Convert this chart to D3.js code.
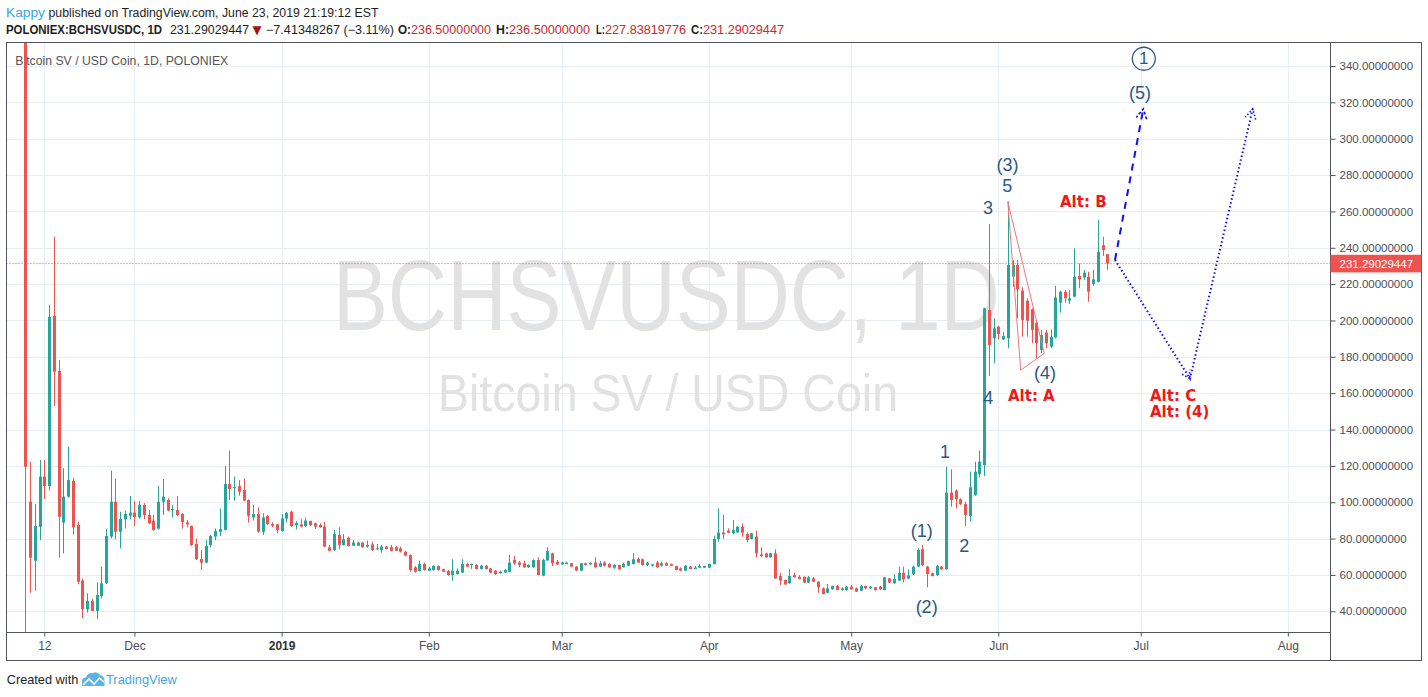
<!DOCTYPE html>
<html><head><meta charset="utf-8">
<script src="https://cdn.jsdelivr.net/npm/d3@7"></script>
<style>body{margin:0;background:#fff;} svg{display:block;font-family:"Liberation Sans",Arial,sans-serif;}</style>
</head><body><svg id="c" width="1428" height="697"></svg>
<script>
// ---------------- DATA ----------------
const startDate = "2018-11-08"; // first daily candle
const open = [
380,100.3,67.8,86.5,114.1,108.9,202.5,172.2,88.8,103.1,111.7,87.5,56.9,41.1,45.7,40.2,48.4,55.4,81.1,100.3,83.8,90.6,92.6,
94.3,91.7,98.5,93.0,89.9,85.5,100.3,101.2,95.7,95.7,93.5,88.9,86.9,77.0,68.8,66.8,76.5,81.1,83.8,84.7,110.0,108.0,108.9,106.7,101.2,91.7,93.5,83.8,92.4,88.0,87.8,
84.2,91.0,94.8,87.3,87.8,86.9,89.7,88.4,87.5,86.6,75.2,73.7,82.0,76.5,80.5,76.1,76.1,77.8,75.6,76.8,74.1,73.7,75.6,75.2,75.2,74.6,72.8,71.0,64.2,62.2,66.0,
62.3,62.7,64.9,63.1,62.2,60.0,60.5,61.3,66.0,65.5,65.5,63.3,65.1,63.6,62.4,60.9,61.3,61.8,68.2,66.9,66.4,64.2,64.2,68.2,59.6,68.0,71.9,67.3,
65.8,66.0,66.4,64.6,62.4,66.4,65.8,66.8,64.6,66.8,66.0,64.0,65.5,64.2,65.1,66.0,68.8,68.6,65.5,65.1,66.8,65.1,66.4,66.0,64.9,63.6,62.4,64.6,63.3,64.0,64.0,
64.0,66.0,79.8,83.3,84.4,82.9,83.4,86.6,82.5,79.8,81.1,71.3,71.9,69.7,71.9,59.4,57.2,55.4,59.9,59.0,59.0,55.8,58.1,56.3,52.6,50.2,52.1,53.9,51.7,51.7,
53.6,52.6,51.3,53.9,52.6,53.2,53.6,51.7,58.1,55.4,56.9,61.2,58.1,60.5,64.6,74.1,64.6,60.9,59.9,64.6,63.1,105.3,106.4,101.6,99.0,92.4,104.0,115.5,120.5,205.8,190.2,
196.6,189.6,190.2,224.1,230.5,216.4,210.9,206.1,198.8,183.8,193.3,185.6,190.7,209.8,215.8,210.9,213.1,224.5,223.7,224.1,220.1,221.3,241.5,236.5
];
const high = [
420,122.3,99.0,123.2,123.2,208.5,246.1,178.3,118.7,130.6,113.5,89.3,58.1,49.9,46.8,55.9,64.6,85.3,117.4,113.0,94.8,95.4,103.4,
100.7,100.7,99.5,95.7,93.0,108.9,112.8,102.2,98.5,103.4,93.8,90.2,87.2,80.1,73.7,79.2,82.0,85.6,96.6,119.9,128.4,114.1,112.2,113.1,101.6,98.5,97.2,93.9,93.0,88.9,88.0,
93.5,94.8,95.4,89.7,90.6,91.5,89.9,88.8,88.4,89.3,76.5,84.7,86.2,82.5,81.1,79.2,78.3,78.0,78.9,78.3,77.0,76.5,75.9,76.5,75.9,75.6,73.3,71.2,64.9,67.9,66.8,
64.5,65.5,65.1,63.5,62.7,68.6,63.6,68.6,66.8,66.2,66.0,65.5,65.6,63.8,62.7,62.4,63.1,71.0,70.4,67.7,67.9,65.8,68.6,69.7,69.0,75.2,72.2,68.2,
67.3,67.3,66.6,64.9,66.6,66.8,67.0,69.7,67.7,67.8,66.4,65.8,65.6,66.8,67.9,71.9,69.5,69.1,67.3,66.0,67.8,67.3,66.9,66.2,65.1,64.2,65.5,64.9,64.9,66.0,65.1,
66.2,81.6,96.6,93.0,85.6,90.2,86.8,88.4,83.3,83.1,84.4,75.2,72.2,72.2,74.1,61.2,57.4,63.1,61.2,59.9,59.2,59.4,59.0,56.5,53.2,55.0,54.1,54.5,53.2,53.9,
54.5,53.2,54.5,54.1,53.9,53.4,53.9,59.0,58.3,60.5,64.6,64.6,63.1,65.0,74.6,76.5,65.0,61.3,65.5,64.9,119.6,118.1,107.1,102.2,100.3,116.8,122.3,128.4,207.0,253.1,201.2,
197.0,193.8,265.4,233.3,233.3,218.2,212.2,206.7,200.3,194.8,194.8,195.1,219.0,216.4,216.8,216.8,239.7,231.4,227.8,226.8,227.8,255.3,246.1,236.5
];
const low = [
15,50.2,51.4,79.2,101.8,106.4,152.9,69.5,71.9,102.5,82.3,55.0,36.2,39.3,40.0,35.6,47.1,55.0,80.1,79.6,74.6,85.6,90.6,
86.9,91.0,90.6,88.0,84.4,85.0,93.0,95.0,91.5,92.5,85.5,86.2,75.9,68.2,62.7,66.5,75.2,79.2,81.4,84.4,101.2,100.9,103.6,100.5,88.8,89.9,83.3,82.0,87.5,86.2,82.9,
83.8,88.9,86.5,85.1,86.2,86.5,87.0,85.3,86.0,75.2,73.0,73.3,74.1,76.2,75.6,75.9,75.9,75.0,75.0,73.3,73.7,72.2,74.1,73.0,73.2,72.4,70.3,61.8,61.2,61.9,62.4,
62.2,62.5,62.4,61.6,59.6,56.9,60.2,60.9,64.3,63.3,63.0,63.0,63.0,61.0,60.0,60.7,61.1,61.5,65.5,64.2,63.9,63.9,63.9,59.8,59.3,67.8,64.9,65.5,
65.5,65.8,64.2,62.2,62.2,65.1,65.5,64.0,64.4,64.6,64.0,63.3,62.9,64.0,64.9,65.8,66.6,65.1,64.9,64.6,64.0,64.6,64.9,64.9,62.5,62.2,62.2,63.1,63.1,63.8,63.8,
63.8,65.8,78.3,79.8,82.9,82.5,83.2,81.1,77.9,79.6,69.7,69.7,69.5,69.5,57.8,54.5,54.5,55.1,58.5,57.6,55.4,55.6,56.1,50.2,49.3,50.0,51.9,51.5,51.3,51.3,
51.9,50.6,51.1,52.1,52.4,51.3,51.7,51.5,55.6,55.2,56.7,55.8,57.6,60.0,64.2,64.9,53.2,59.2,59.4,62.7,62.7,97.6,96.6,98.5,86.9,89.3,103.6,113.7,114.4,169.4,176.4,
189.6,189.2,184.7,218.6,201.2,191.1,191.1,187.4,179.2,181.9,184.7,184.7,190.2,204.3,209.8,209.0,212.7,217.7,222.3,210.3,219.0,221.0,235.5,227.84
];
const close = [
119.5,69.5,86.9,114.1,108.9,202.1,171.8,92.0,103.1,112.2,86.2,56.3,41.1,45.7,40.2,49.0,55.4,81.4,100.3,83.8,90.8,93.5,94.3,
91.8,98.5,93.0,88.4,84.7,100.3,103.1,95.4,96.3,93.0,89.1,87.8,76.5,68.6,66.8,75.9,81.4,84.2,85.3,110.0,107.3,108.3,105.8,100.9,92.6,93.5,83.8,91.7,88.0,87.1,84.7,
91.1,94.0,86.9,88.4,86.6,89.9,87.3,86.6,86.2,75.6,73.3,82.5,76.5,79.6,75.9,77.8,77.8,75.2,76.5,73.7,74.6,75.6,74.3,73.3,73.3,72.8,70.6,62.7,61.8,66.0,62.7,
63.6,64.9,62.7,61.8,60.0,62.4,62.4,66.0,64.6,66.0,63.3,65.1,63.3,61.3,60.5,61.8,62.7,66.8,66.4,65.5,64.2,65.5,68.2,60.0,68.2,73.2,66.4,65.8,
66.9,66.8,64.6,62.4,66.4,65.5,66.6,64.2,66.4,65.1,64.2,65.5,63.1,66.0,67.7,68.6,66.8,65.5,66.8,65.8,64.2,66.4,65.1,65.1,62.7,62.4,65.1,63.3,64.0,64.9,64.9,
66.0,79.8,83.3,82.3,83.3,84.7,86.6,83.3,79.2,82.9,71.9,70.4,69.7,71.9,58.1,56.9,54.8,59.4,58.7,57.8,55.8,58.7,56.3,53.2,49.5,52.6,53.9,51.7,52.6,53.6,
52.1,50.8,53.9,52.6,53.6,51.7,52.1,58.7,55.8,57.8,61.2,57.6,59.8,64.6,73.7,65.5,60.5,59.4,64.9,63.1,105.3,101.2,101.6,99.0,93.0,108.2,116.8,122.3,206.7,186.5,195.7,
192.6,191.4,230.5,230.5,217.1,200.3,199.9,194.8,187.4,192.0,187.4,191.1,212.7,215.8,212.2,212.2,224.1,222.6,226.3,215.8,222.6,237.8,238.7,231.29029447
];
const priceTicks = [40,60,80,100,120,140,160,180,200,220,240,260,280,300,320,340];
const timeTickDates = ["2018-11-12","2018-12-01","2019-01-01","2019-02-01","2019-03-01","2019-04-01","2019-05-01","2019-06-01","2019-07-01","2019-08-01"];
const timeTickLabels = ["12","Dec","2019","Feb","Mar","Apr","May","Jun","Jul","Aug"];
const lastPrice = 231.29029447;
// Elliott wave labels: [day index from startDate (fractional), price, text]
const waveLabels = [
 [188.86,84.2,"(1)"],[189.9,42.1,"(2)"],[193.77,127.8,"1"],[197.84,76.2,"2"],
 [202.83,261.9,"3"],[202.9,157.2,"4"],[206.94,285.5,"(3)"],[206.88,273.8,"5"],
 [214.84,170.9,"(4)"],[234.86,325.1,"(5)"]
];
const circledLabel = [235.66,344.0,"1"];
// red "Alt" labels: [day index of left edge, price, text]
const altLabels = [[218.0,265.2,"Alt: B"],[207.04,158.3,"Alt: A"],[236.96,158.2,"Alt: C"],[236.96,149.6,"Alt: (4)"]];
// red triangle drawing
const triangle = [[207,265.4],[214.69,181.9],[209.72,172.7]];
// blue projections
const dashedPath = [[229.59,233.3],[235.55,316.4]];
const dottedPath = [[229.59,233.3],[245.39,168.0],[258.6,316.4]];

// ---------------- CHART ----------------
const W=1428,H=697;
const PL=6.5, PT=42.5, PR=1330.5, PB=632.5, RR=1421.5, BB=660.5;
const svg=d3.select("#c");
svg.append("rect").attr("width",W).attr("height",H).attr("fill","#fff");
const parse=d3.utcParse("%Y-%m-%d");
const t0=parse(startDate);
const x=d3.scaleUtc().domain([parse("2018-11-12"),parse("2019-06-01")]).range([44.3,998.3]);
const y=d3.scaleLinear().domain([40,340]).range([611.3,66.0]);
const dayX=i=>x(new Date(t0.getTime()+i*864e5));

svg.append("defs").append("clipPath").attr("id","plotclip")
  .append("rect").attr("x",PL).attr("y",PT).attr("width",PR-PL).attr("height",PB-PT);

// grid
const grid=svg.append("g").attr("clip-path","url(#plotclip)");
grid.selectAll(".hg").data(priceTicks).join("line")
  .attr("x1",PL).attr("x2",PR).attr("y1",d=>Math.round(y(d))+0.5).attr("y2",d=>Math.round(y(d))+0.5)
  .attr("stroke","#e9eef3").attr("stroke-width",1);
grid.selectAll(".vg").data(timeTickDates).join("line")
  .attr("x1",d=>Math.round(x(parse(d)))+0.5).attr("x2",d=>Math.round(x(parse(d)))+0.5).attr("y1",PT).attr("y2",PB)
  .attr("stroke","#e9eef3").attr("stroke-width",1);

// watermark
const wm=svg.append("g").attr("fill","#e2e2e2");
wm.append("text").attr("x",333).attr("y",330).attr("font-size",100).attr("textLength",667).attr("lengthAdjust","spacingAndGlyphs").text("BCHSVUSDC, 1D");
wm.append("text").attr("x",438).attr("y",411).attr("font-size",52).attr("textLength",460).attr("lengthAdjust","spacingAndGlyphs").text("Bitcoin SV / USD Coin");

// title
svg.append("text").attr("x",15.3).attr("y",64.7).attr("font-size",12).attr("fill","#555").attr("textLength",213).attr("lengthAdjust","spacingAndGlyphs").text("Bitcoin SV / USD Coin, 1D, POLONIEX");

// current price line
svg.append("line").attr("x1",PL).attr("x2",PR).attr("y1",y(lastPrice)).attr("y2",y(lastPrice))
  .attr("stroke","#ef5350").attr("stroke-width",1).attr("stroke-dasharray","1,2");

// candles
const data=open.map((o,i)=>({i,o,h:high[i],l:low[i],c:close[i]}));
const cg=svg.append("g").attr("clip-path","url(#plotclip)");
const up="#26a69a", dn="#ef5350";
cg.selectAll(".wick").data(data).join("line")
  .attr("x1",d=>Math.round(dayX(d.i))+0.5).attr("x2",d=>Math.round(dayX(d.i))+0.5)
  .attr("y1",d=>y(d.h)).attr("y2",d=>y(d.l))
  .attr("stroke",d=>d.c>=d.o?up:dn).attr("stroke-width",1);
cg.selectAll(".body").data(data).join("rect")
  .attr("x",d=>Math.round(dayX(d.i))-1)
  .attr("width",3)
  .attr("y",d=>y(Math.max(d.o,d.c)))
  .attr("height",d=>Math.max(1,Math.abs(y(d.o)-y(d.c))))
  .attr("fill",d=>d.c>=d.o?up:dn);

// triangle drawing
const line=d3.line().x(d=>dayX(d[0])).y(d=>y(d[1]));
svg.append("path").attr("d",line(triangle)+"Z").attr("fill","none").attr("stroke","#f07878").attr("stroke-width",1);

// projections
function arrowHead(p0,p1,len,ang){
  const a=Math.atan2(p1[1]-p0[1],p1[0]-p0[0]);
  const l=[p1[0]-len*Math.cos(a-ang),p1[1]-len*Math.sin(a-ang)];
  const r=[p1[0]-len*Math.cos(a+ang),p1[1]-len*Math.sin(a+ang)];
  return "M"+l+"L"+p1+"L"+r;
}
const blue="#1010ee";
svg.append("path").attr("d",line(dashedPath)).attr("fill","none").attr("stroke",blue).attr("stroke-width",2).attr("stroke-dasharray","7,6");
const dp=dashedPath.map(d=>[dayX(d[0]),y(d[1])]);
svg.append("path").attr("d",arrowHead(dp[0],dp[1],11,0.5)).attr("fill","none").attr("stroke",blue).attr("stroke-width",1.6).attr("stroke-dasharray","3,2");
svg.append("path").attr("d",line(dottedPath)).attr("fill","none").attr("stroke",blue).attr("stroke-width",2).attr("stroke-dasharray","1.5,2.5");
const tp=dottedPath.map(d=>[dayX(d[0]),y(d[1])]);
svg.append("path").attr("d",arrowHead(tp[0],tp[1],9,0.5)).attr("fill","none").attr("stroke",blue).attr("stroke-width",1.6).attr("stroke-dasharray","1.5,2");
svg.append("path").attr("d",arrowHead(tp[1],tp[2],11,0.5)).attr("fill","none").attr("stroke",blue).attr("stroke-width",1.6).attr("stroke-dasharray","1.5,2");

// wave labels
const waveColor="#2a5885";
svg.selectAll(".wl").data(waveLabels).join("text")
  .attr("x",d=>dayX(d[0])).attr("y",d=>y(d[1])).attr("text-anchor","middle").attr("dominant-baseline","central")
  .attr("font-size",18).attr("fill",waveColor).text(d=>d[2]);
svg.append("circle").attr("cx",dayX(circledLabel[0])).attr("cy",y(circledLabel[1])).attr("r",11.5)
  .attr("fill","none").attr("stroke",waveColor).attr("stroke-width",1.3);
svg.append("text").attr("x",dayX(circledLabel[0])).attr("y",y(circledLabel[1])).attr("text-anchor","middle").attr("dominant-baseline","central")
  .attr("font-size",17).attr("fill",waveColor).text(circledLabel[2]);
svg.selectAll(".al").data(altLabels).join("text")
  .attr("x",d=>dayX(d[0])).attr("y",d=>y(d[1])).attr("dominant-baseline","central")
  .attr("font-family","'DejaVu Sans',sans-serif").attr("font-weight","bold").attr("font-size",15).attr("fill","#f01818").text(d=>d[2]);

// frame
const fr=svg.append("g").attr("stroke","#50535e").attr("stroke-width",1).attr("fill","none");
fr.append("rect").attr("x",PL).attr("y",PT).attr("width",RR-PL).attr("height",BB-PT);
fr.append("line").attr("x1",PR).attr("x2",PR).attr("y1",PT).attr("y2",BB);
fr.append("line").attr("x1",PL).attr("x2",PR).attr("y1",PB).attr("y2",PB);

// price axis
const ya=svg.append("g").attr("transform",`translate(${PR},0)`)
  .call(d3.axisRight(y).tickValues(priceTicks).tickFormat(d=>d.toFixed(8)).tickSize(5).tickPadding(4));
ya.select(".domain").remove();
ya.selectAll("line").attr("stroke","#50535e");
ya.selectAll("text").attr("font-family","'Liberation Sans',Arial,sans-serif").attr("font-size",11.5).attr("fill","#4a4f5a");
// last price label
const lp=svg.append("g");
lp.append("rect").attr("x",PR).attr("y",y(lastPrice)-8.8).attr("width",RR-PR).attr("height",17.6).attr("fill","#ef5350");
lp.append("text").attr("x",1339.5).attr("y",y(lastPrice)).attr("dominant-baseline","central").attr("font-size",11.5).attr("fill","#fff").text(lastPrice.toFixed(8));

// time axis
const tickDates=timeTickDates.map(parse);
const xa=svg.append("g").attr("transform",`translate(0,${PB})`)
  .call(d3.axisBottom(x).tickValues(tickDates).tickFormat((d,i)=>timeTickLabels[i]).tickSize(4).tickPadding(5));
xa.select(".domain").remove();
xa.selectAll("line").attr("stroke","#50535e");
xa.selectAll("text").attr("font-family","'Liberation Sans',Arial,sans-serif").attr("font-size",12).attr("fill","#4a4f5a")
  .attr("font-weight",(d,i)=>timeTickLabels[i]==="2019"?"bold":"normal")
  .attr("fill",(d,i)=>timeTickLabels[i]==="2019"?"#333":"#4a4f5a");

// header
const hd=svg.append("g").attr("font-size",12);
function seg(txt,x0,len,yb,opts){
  const t=hd.append("text").attr("x",x0).attr("y",yb).attr("textLength",len).attr("lengthAdjust","spacingAndGlyphs").text(txt);
  t.attr("fill",(opts&&opts.fill)||"#1e1e1e");
  if(opts&&opts.bold) t.attr("font-weight","bold");
  if(opts&&opts.ff) t.attr("font-family",opts.ff);
  return t;
}
seg("Kappy",6,39,17,{fill:"#3ea6e0"});
seg("published on TradingView.com, June 23, 2019 21:19:12 EST",48.5,330,17);
const red="#c8282b";
seg("POLONIEX:BCHSVUSDC, 1D",6,156,34,{bold:true});
seg("231.29029447",170,79,34);
seg("▼",252.5,9,34,{fill:"#a0141a",ff:"'DejaVu Sans',sans-serif"});
seg("\u22127.41348267 (\u22123.11%)",266,128,34);
seg("O:",398,13,34,{bold:true});
seg("236.50000000",411,80,34,{fill:red});
seg("H:",496,13,34,{bold:true});
seg("236.50000000",509,81,34,{fill:red});
seg("L:",596,9,34,{bold:true});
seg("227.83819776",605,81,34,{fill:red});
seg("C:",691,12,34,{bold:true});
seg("231.29029447",703,81,34,{fill:red});

// footer
const ft=svg.append("g").attr("font-size",13.5);
ft.append("text").attr("x",6.7).attr("y",684.3).attr("fill","#1e1e1e").attr("textLength",71.6).attr("lengthAdjust","spacingAndGlyphs").text("Created with");
ft.append("path").attr("d","M82,686 L82,681.5 Q82,677.5 86,677.5 Q87.5,672.5 93,673 Q97,671 100,675 Q104.5,676 104.5,681 L104.5,686 Z").attr("fill","#5ab4e5");
ft.append("path").attr("d","M83,685 L89,679 L94,684 L99.5,678 L104,682").attr("fill","none").attr("stroke","#fff").attr("stroke-width",1.6);
ft.append("text").attr("x",106).attr("y",684.3).attr("fill","#45a7e0").attr("textLength",70.7).attr("lengthAdjust","spacingAndGlyphs").text("TradingView");
</script></body></html>
